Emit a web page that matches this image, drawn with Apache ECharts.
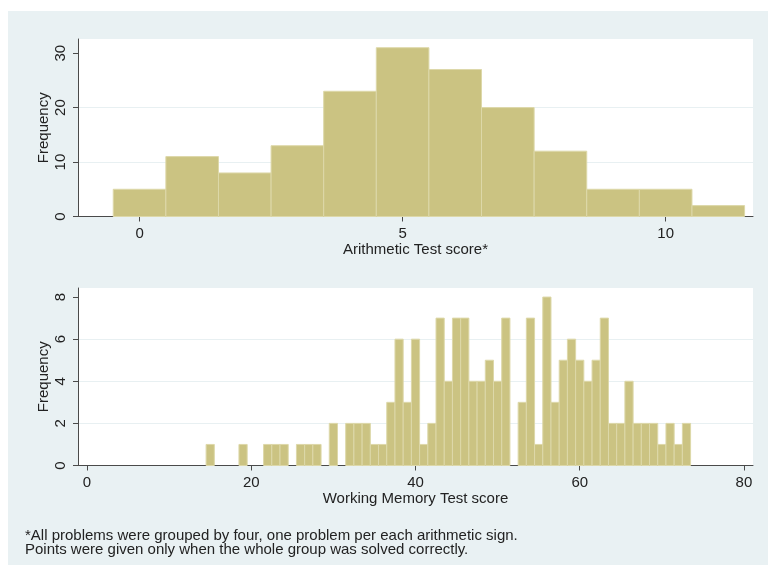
<!DOCTYPE html>
<html>
<head>
<meta charset="utf-8">
<script src="https://cdn.jsdelivr.net/npm/echarts@6/dist/echarts.min.js"></script>
<style>
html,body{margin:0;padding:0;background:#fff;}
#chart{width:768px;height:565px;}
</style>
</head>
<body>
<div id="chart"></div>
<script>
// Top histogram: Arithmetic Test score (bin centers, width 1)
var arithScores = [0,1,2,3,4,5,6,7,8,9,10,11];
var arithFreq   = [5,11,8,13,23,31,27,20,12,5,5,2];
var arithXTicks = [0,5,10];
var arithYTicks = [0,10,20,30];

// Bottom histogram: Working Memory Test score (bin centers, width 1)
var wmScores = [15,19,22,23,24,26,27,28,30,32,33,34,35,36,37,38,39,40,41,42,43,44,45,46,47,48,49,50,51,53,54,55,56,57,58,59,60,61,62,63,64,65,66,67,68,69,70,71,72,73];
var wmFreq   = [1,1,1,1,1,1,1,1,2,2,2,2,1,1,3,6,3,6,1,2,7,4,7,7,4,4,5,4,7,3,7,1,8,3,5,6,5,4,5,7,2,2,4,2,2,2,1,2,1,2];
var wmXTicks = [0,20,40,60,80];
var wmYTicks = [0,2,4,6,8];

var titleTop = 'Arithmetic Test score*';
var titleBottom = 'Working Memory Test score';
var yName = 'Frequency';
var footLines = ['*All problems were grouped by four, one problem per each arithmetic sign.',
                 'Points were given only when the whole group was solved correctly.'];

var FONT = 'Liberation Sans, Arial, sans-serif';
var BAR = '#cbc382';
var BAR_EDGE = '#ddd8a9';
var AXIS = '#4a4a4a';
var GRIDC = '#e8f0f2';
var TXT = '#222';

function histData(xs, ys){ return xs.map(function(x,i){ return [x, ys[i]]; }); }

function renderBin(params, api){
  var x = api.value(0), y = api.value(1);
  var p0 = api.coord([x - 0.5, 0]);
  var p1 = api.coord([x + 0.5, y]);
  return {
    type: 'rect',
    shape: {x: p0[0], y: p1[1], width: p1[0]-p0[0], height: p0[1]-p1[1]},
    style: {fill: BAR, stroke: BAR_EDGE, lineWidth: 1}
  };
}

function xAxis(idx, min, max, ticks, name){
  return {
    type: 'value', gridIndex: idx, min: min, max: max,
    name: name, nameLocation: 'middle', nameGap: 26, nameMoveOverlap: false,
    nameTextStyle: {fontFamily: FONT, fontSize: 15, color: TXT},
    axisLine: {show: true, onZero: false, lineStyle: {color: AXIS, width: 1}},
    axisTick: {show: true, length: 5, customValues: ticks, lineStyle: {color: AXIS}},
    axisLabel: {customValues: ticks, fontFamily: FONT, fontSize: 15, color: TXT, margin: 10},
    splitLine: {show: false}
  };
}
function yAxis(idx, max, interval, ticks){
  return {
    type: 'value', gridIndex: idx, min: 0, max: max, interval: interval,
    name: yName, nameLocation: 'middle', nameGap: 27, nameMoveOverlap: false,
    nameTextStyle: {fontFamily: FONT, fontSize: 15, color: TXT},
    axisLine: {show: true, onZero: false, lineStyle: {color: AXIS, width: 1}},
    axisTick: {show: true, length: 5, customValues: ticks, lineStyle: {color: AXIS}},
    axisLabel: {customValues: ticks, rotate: 90, fontFamily: FONT, fontSize: 15, color: TXT, margin: 10},
    splitLine: {show: true, showMinLine: false, showMaxLine: false, lineStyle: {color: GRIDC, width: 1}}
  };
}

var chart = echarts.init(document.getElementById('chart'), null, {renderer: 'canvas'});
chart.setOption({
  backgroundColor: '#ffffff',
  animation: false,
  graphic: [
    {type: 'rect', z: -100, silent: true, shape: {x: 8, y: 11, width: 760, height: 554}, style: {fill: '#e9f1f3'}},
    {type: 'text', left: 25, top: 528, style: {text: footLines[0], font: '15px ' + FONT, fill: TXT}},
    {type: 'text', left: 25, top: 542, style: {text: footLines[1], font: '15px ' + FONT, fill: TXT}}
  ],
  grid: [
    {left: 78, top: 39, width: 675, height: 177.5, show: true, backgroundColor: '#fff', borderWidth: 0},
    {left: 78, top: 288, width: 675, height: 177.5, show: true, backgroundColor: '#fff', borderWidth: 0}
  ],
  xAxis: [
    xAxis(0, -1.17, 11.66, arithXTicks, titleTop),
    xAxis(1, -1.1, 81.1, wmXTicks, titleBottom)
  ],
  yAxis: [
    yAxis(0, 32.6, 10, arithYTicks),
    yAxis(1, 8.43, 2, wmYTicks)
  ],
  series: [
    {type: 'custom', xAxisIndex: 0, yAxisIndex: 0, renderItem: renderBin, data: histData(arithScores, arithFreq), encode: {x: 0, y: 1}},
    {type: 'custom', xAxisIndex: 1, yAxisIndex: 1, renderItem: renderBin, data: histData(wmScores, wmFreq), encode: {x: 0, y: 1}}
  ]
});
</script>
</body>
</html>
